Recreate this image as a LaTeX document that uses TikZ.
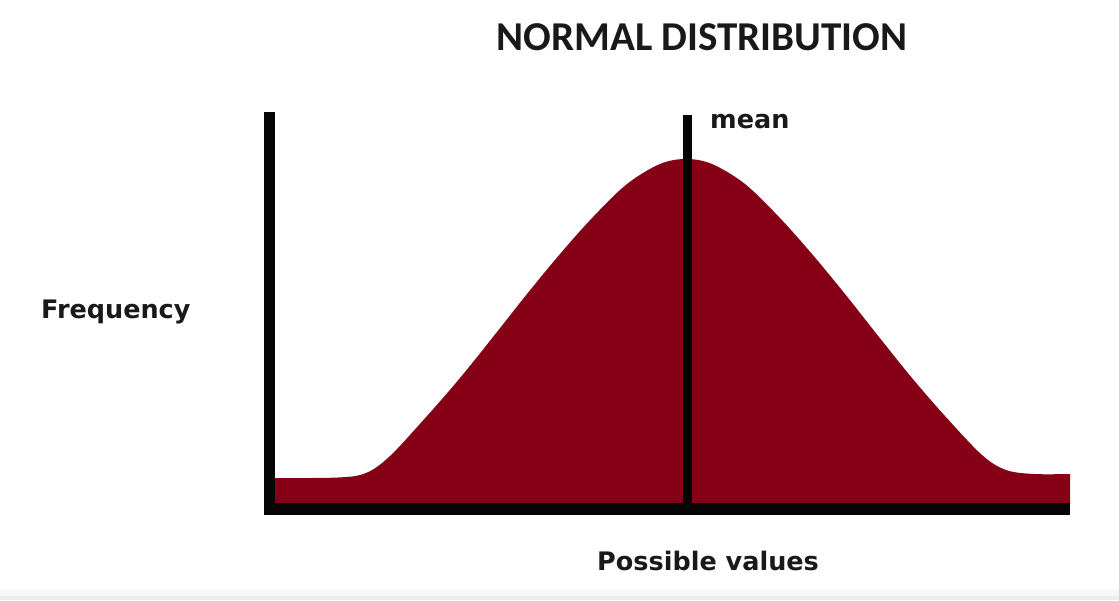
\documentclass[tikz,border=0pt]{standalone}
\usepackage{fontspec}
\setmainfont{DejaVu Sans}
\newfontfamily\titlefont{Carlito}
\definecolor{curvered}{RGB}{134,0,22}
\definecolor{axisblack}{RGB}{5,5,5}
\begin{document}
\begin{tikzpicture}[x=1pt,y=-1pt,
  axisline/.style={draw=axisblack,line width=11.5pt},
  meanline/.style={draw=axisblack,line width=9pt},
  labeltext/.style={inner sep=0pt,font=\bfseries\fontsize{25.5}{30}\selectfont,text=black!90},
  titletext/.style={inner sep=0pt,font=\titlefont\bfseries\fontsize{41}{48}\selectfont,text=black!90}]
\useasboundingbox (0,0) rectangle (1119,600);
\fill[white] (0,0) rectangle (1119,600);
\fill[black!3] (0,589) rectangle (1119,600);
\fill[black!7] (0,596) rectangle (1119,600);
% curve
\fill[curvered] (275,503) -- (275,478) -- plot[smooth,tension=0.55] coordinates {
 (275,478) (338,477.5) (366,473) (390,456) (427,416) (460,378) (493,337) (527,294)
 (560,254) (593,217) (627,184) (660,164) (686,159) (712,164) (745,184) (779,217)
 (812,254) (845,294) (879,337) (912,378) (945,416) (982,455) (1006,470) (1034,474) (1070,474)}
 -- (1070,503) -- cycle;
% coordinates
\coordinate (ytop) at (269.5,112);
\coordinate (origin) at (269.5,509);
\coordinate (xstart) at (264,509);
\coordinate (xend) at (1070,509);
\coordinate (meantop) at (687.5,115);
\coordinate (meanbot) at (687.5,504);
\draw[meanline] (meantop) -- (meanbot);
\draw[axisline] (ytop) -- (origin);
\draw[axisline] (xstart) -- (xend);
% texts
\node[titletext,anchor=base] (title) at (702,50) {NORMAL DISTRIBUTION};
\node[labeltext,anchor=base west] (mean) at (710,128) {mean};
\node[labeltext,anchor=base west] (freq) at (41,318) {Frequency};
\node[labeltext,anchor=base west] (poss) at (597,570) {Possible values};
\end{tikzpicture}
\end{document}
